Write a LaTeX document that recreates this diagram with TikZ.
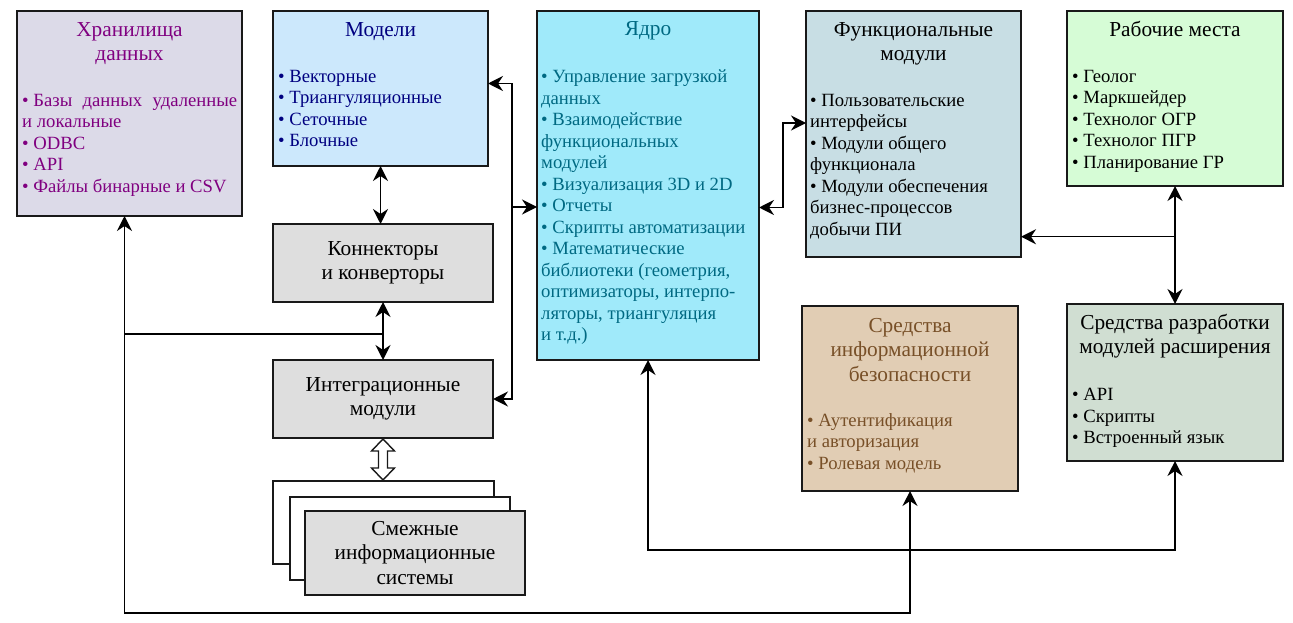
\documentclass[tikz,border=0pt]{standalone}
\usepackage{fontspec}
\setmainfont{Liberation Serif}
\usepackage{xcolor}
\usetikzlibrary{arrows.meta, positioning, calc}
\definecolor{storefill}{RGB}{220,218,232}
\definecolor{storetext}{RGB}{128,0,128}
\definecolor{modelfill}{RGB}{204,232,252}
\definecolor{modeltext}{RGB}{0,0,128}
\definecolor{corefill}{RGB}{160,234,250}
\definecolor{coretext}{RGB}{0,105,130}
\definecolor{funcfill}{RGB}{200,222,228}
\definecolor{workfill}{RGB}{214,252,214}
\definecolor{secfill}{RGB}{225,205,180}
\definecolor{sectext}{RGB}{120,80,40}
\definecolor{devfill}{RGB}{208,222,210}
\definecolor{greyfill}{RGB}{222,222,222}
\newcommand{\headfont}{\fontsize{21.33pt}{24.5pt}\selectfont}
\newcommand{\itemfont}{\fontsize{18.67pt}{21.5pt}\selectfont}
\newcommand{\bul}{\textbullet\hspace{0.25em}}

\begin{document}
\begin{tikzpicture}[
    x=1pt, y=1pt,
    box/.style={rectangle, draw=black!90, line width=1.8pt, anchor=north west, inner sep=0pt, outer sep=0pt},
    grey/.style={box, fill=greyfill, align=center, minimum width=220pt, minimum height=78pt, font=\headfont},
    head/.style={anchor=north, align=center, inner sep=0pt, font=\headfont},
    items/.style={anchor=north west, align=left, inner sep=0pt, font=\itemfont},
    arrow/.style={-{Stealth[length=15pt,width=15pt,inset=5pt]}, line width=1.5pt},
    dar/.style={{Stealth[length=15pt,width=15pt,inset=5pt]}-{Stealth[length=15pt,width=15pt,inset=5pt]}, line width=1.9pt},
    hollow/.style={draw=black!90, fill=white, line width=1.4pt, line join=miter}
]
\useasboundingbox (0,0) rectangle (1293,-623);

% Top row
\node[box, fill=storefill, minimum width=225pt, minimum height=205pt] (store) at (17,-11) {};
\node[box, fill=modelfill, minimum width=215pt, minimum height=155pt] (models) at ([xshift=31pt]store.north east) {};
\node[box, fill=corefill, minimum width=222pt, minimum height=349pt] (core) at ([xshift=49pt]models.north east) {};
\node[box, fill=funcfill, minimum width=215pt, minimum height=246pt] (func) at ([xshift=47pt]core.north east) {};
\node[box, fill=workfill, minimum width=216pt, minimum height=175pt] (work) at ([xshift=46pt]func.north east) {};

% Titles
\node[head, text=storetext, below=11pt of store.north] (storehead) {Хранилища\\данных};
\node[head, text=modeltext, below=11pt of models.north] (modelhead) {Модели};
\node[head, text=coretext, below=10pt of core.north] (corehead) {Ядро};
\node[head, below=11pt of func.north] (funchead) {Функциональные\\модули};
\node[head, below=10pt of work.north] (workhead) {Рабочие места};

% Lists
\node[items, text=storetext, below right=83pt and 5pt of store.north west] (storelist)
    {\makebox[215pt][s]{\bul Базы данных удаленные}\\и локальные\\\bul ODBC\\\bul API\\\bul Файлы бинарные и CSV};
\node[items, text=modeltext, below right=59pt and 5pt of models.north west] (modellist)
    {\bul Векторные\\\bul Триангуляционные\\\bul Сеточные\\\bul Блочные};
\node[items, text=coretext, below right=59pt and 4pt of core.north west] (corelist)
    {\bul Управление загрузкой\\данных\\\bul Взаимодействие\\функциональных\\модулей\\\bul Визуализация 3D и 2D\\\bul Отчеты\\\bul Скрипты автоматизации\\\bul Математические\\библиотеки (геометрия,\\оптимизаторы, интерпо-\\ляторы, триангуляция\\и т.д.)};
\node[items, below right=83pt and 4pt of func.north west] (funclist)
    {\bul Пользовательские\\интерфейсы\\\bul Модули общего\\функционала\\\bul Модули обеспечения\\бизнес-процессов\\добычи ПИ};
\node[items, below right=59pt and 5pt of work.north west] (worklist)
    {\bul Геолог\\\bul Маркшейдер\\\bul Технолог ОГР\\\bul Технолог ПГР\\\bul Планирование ГР};

% Left column
\node[grey] (conn) at ([yshift=-58pt]models.south west) {Коннекторы\\и конверторы};
\node[grey] (integ) at ([yshift=-58pt]conn.south west) {Интеграционные\\модули};
\node[box, fill=white, minimum width=221pt, minimum height=83pt] (adjback) at ([yshift=-43pt]integ.south west) {};
\node[box, fill=white, minimum width=220pt, minimum height=83pt] (adjmid) at ([shift={(17pt,-16pt)}]adjback.north west) {};
\node[grey, minimum height=84pt] (adj) at ([shift={(15pt,-14pt)}]adjmid.north west) {Смежные\\информационные\\системы};

% Lower right
\node[box, fill=secfill, minimum width=216pt, minimum height=185pt] (sec) at (802,-306) {};
\node[box, fill=devfill, minimum width=216pt, minimum height=157pt] (dev) at (1067,-304) {};
\node[head, text=sectext, below=12pt of sec.north] (sechead) {Средства\\информационной\\безопасности};
\node[items, text=sectext, below right=107pt and 5pt of sec.north west] (seclist)
    {\bul Аутентификация\\и авторизация\\\bul Ролевая модель};
\node[head, below=10pt of dev.north] (devhead) {Средства разработки\\модулей расширения};
\node[items, below right=84pt and 5pt of dev.north west] (devlist)
    {\bul API\\\bul Скрипты\\\bul Встроенный язык};

% Junctions
\coordinate (tap) at ($(conn.south)!0.55!(integ.north)$);
\coordinate (corebus) at (512,-207);
\coordinate (worktap) at ($(work.south)!0.43!(work.south |- dev.north)$);
\coordinate (ht) at ([yshift=-1pt]integ.south);
\coordinate (hb) at ([yshift=1pt]integ.south |- adjback.north);

% Arrows
\draw[dar] (models.south) -- (models.south |- conn.north);
\draw[dar] (conn.south) -- (integ.north);
\draw[arrow] (tap) -| ([xshift=-5pt]store.south);
\draw[arrow] ([xshift=-5pt]store.south |- tap) |- ++(0,-279) -| (sec.south);
\draw[hollow] (ht) -- ++(11.5,-12) -- ++(-7,0) -- ($(hb)+(4.5,12)$) -- ++(7,0) -- (hb)
    -- ++(-11.5,12) -- ++(7,0) -- ($(ht)+(-4.5,-12)$) -- ++(-7,0) -- cycle;
\draw[dar] ([yshift=5pt]models.east) -| (corebus) |- (integ.east);
\draw[arrow] (corebus) -- (corebus -| core.west);
\draw[dar] ([yshift=-22pt]core.east) -- ++(24,0) |- ([yshift=11pt]func.west);
\draw[dar] (work.south) -- (work.south |- dev.north);
\draw[arrow] (worktap) -- (worktap -| func.east);
\draw[dar] (core.south) |- ++(0,-190) -| (dev.south);

\end{tikzpicture}
\end{document}
